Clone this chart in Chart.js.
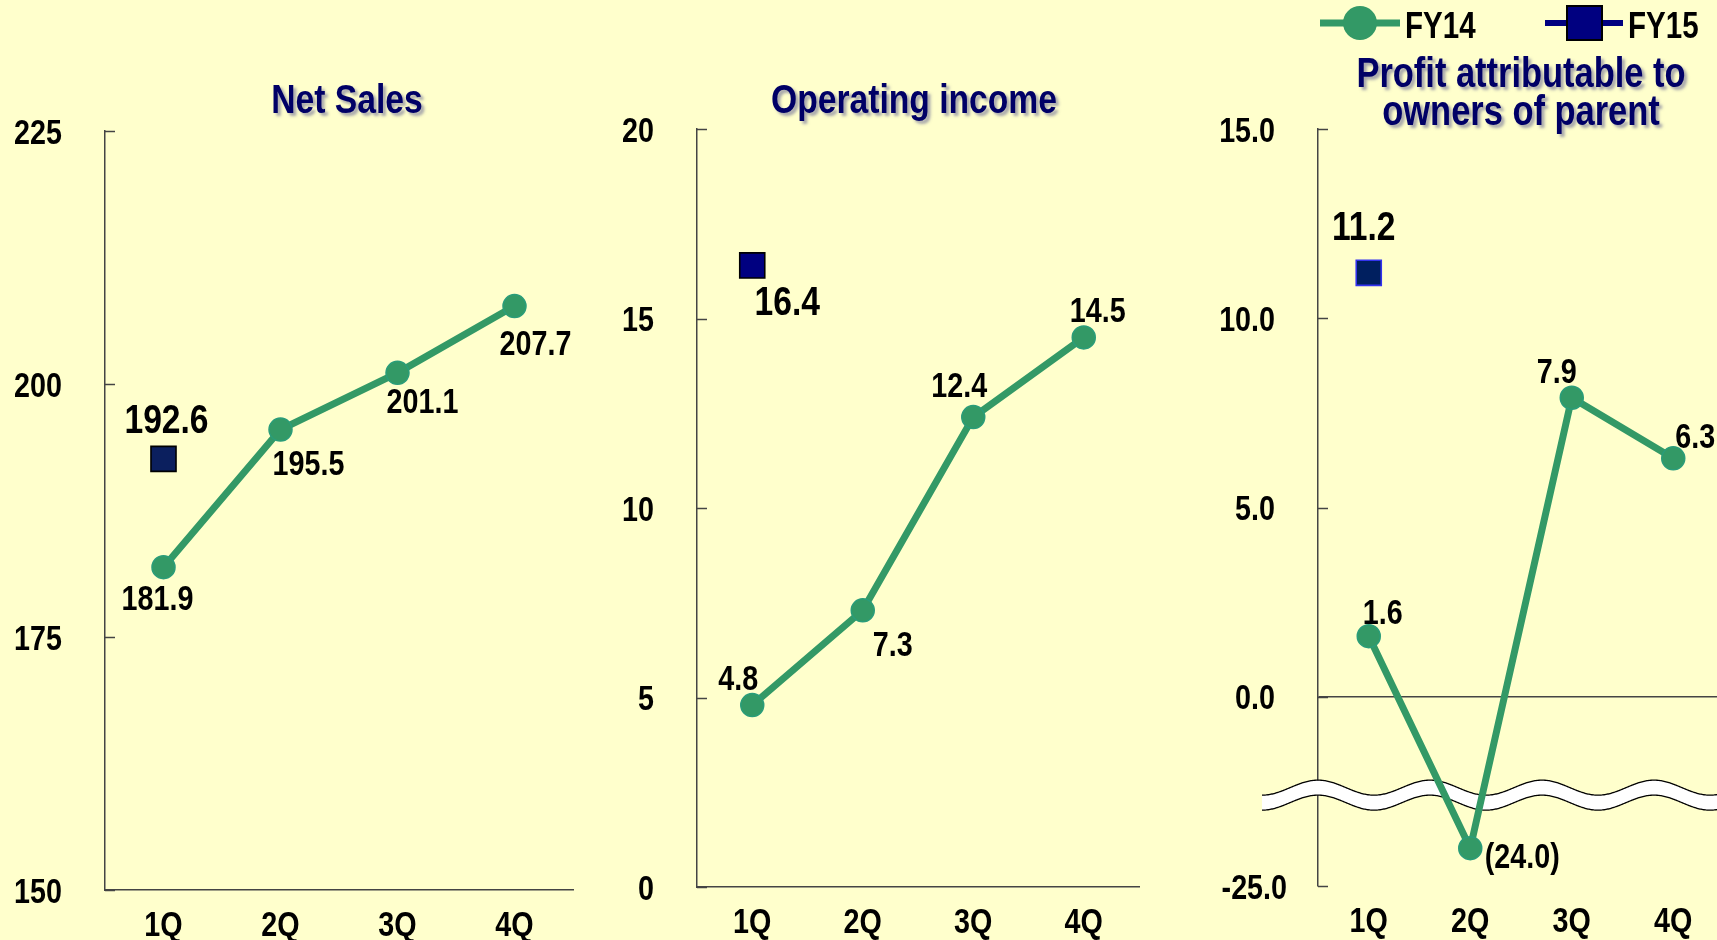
<!DOCTYPE html>
<html>
<head>
<meta charset="utf-8">
<script src="https://cdn.jsdelivr.net/npm/chart.js@4.4.1/dist/chart.umd.min.js"></script>
<style>
  html, body { margin: 0; padding: 0; background: #FFFFCC; }
  body { width: 1717px; height: 940px; position: relative; overflow: hidden; }
  canvas { position: absolute; top: 0; }
</style>
</head>
<body>
<canvas id="salesChart" width="590" height="940" style="left:0px"></canvas>
<canvas id="opChart" width="560" height="940" style="left:600px"></canvas>
<!-- the last plot runs a little past the right edge of the page, as in the source -->
<canvas id="profitChart" width="564" height="940" style="left:1160px"></canvas>
<script>
// data
const quarters = ['1Q', '2Q', '3Q', '4Q'];
const seriesNames = ['FY14', 'FY15'];

const salesFY14 = [181.9, 195.5, 201.1, 207.7];
const salesFY15 = [192.6, null, null, null];
const salesTicks = [150, 175, 200, 225];

const opFY14 = [4.8, 7.3, 12.4, 14.5];
const opFY15 = [16.4, null, null, null];
const opTicks = [0, 5, 10, 15, 20];

const profitFY14 = [1.6, -24.0, 7.9, 6.3];
const profitFY15 = [11.2, null, null, null];
const profitTicks = [-25, 0, 5, 10, 15];

// broken axis on the profit chart: negatives are shifted up by this amount
const PROFIT_BREAK = 20;
const toAxis = v => (v == null ? null : (v < 0 ? v + PROFIT_BREAK : v));
const fromAxis = v => (v < 0 ? v - PROFIT_BREAK : v);

const FONT = "'Liberation Sans', Arial, sans-serif";
const NARROW = 0.82; // squeeze Liberation Sans Bold into an Arial Narrow look
const GREEN = '#339966';
const TITLE_NAVY = '#000066';
const AXIS = '#444444';

// bold narrow text, y is the baseline
function narrowText(ctx, txt, x, y, size, align, color) {
  ctx.save();
  ctx.translate(x, y);
  ctx.scale(NARROW, 1);
  ctx.font = `bold ${size}px ${FONT}`;
  ctx.fillStyle = color || '#000';
  ctx.textAlign = align || 'center';
  ctx.textBaseline = 'alphabetic';
  ctx.fillText(txt, 0, 0);
  ctx.restore();
}
const capHalf = size => size * 0.358;

// axis labels drawn from the scales' own ticks
const narrowTicks = {
  id: 'narrowTicks',
  afterDraw(chart, args, opts) {
    const ctx = chart.ctx, y = chart.scales.y, x = chart.scales.x;
    const shift = opts.shift || {};
    y.ticks.forEach(t => {
      narrowText(ctx, t.label, y.right - 43 + (shift[t.label] || 0),
        y.getPixelForValue(t.value) + capHalf(35), 35, 'right');
    });
    x.ticks.forEach((t, i) => {
      narrowText(ctx, t.label, x.getPixelForTick(i), chart.chartArea.bottom + 33 + capHalf(35), 35, 'center');
    });
  }
};

// value labels next to each point
const valueLabels = {
  id: 'valueLabels',
  afterDatasetsDraw(chart) {
    const ctx = chart.ctx;
    chart.data.datasets.forEach((ds, i) => {
      const meta = chart.getDatasetMeta(i);
      meta.data.forEach((pt, j) => {
        const v = ds.rawValues[j];
        if (v == null) return;
        const [dx, dy] = ds.labelOffsets[j];
        const txt = v < 0 ? '(' + Math.abs(v).toFixed(1) + ')' : v.toFixed(1);
        narrowText(ctx, txt, pt.x + dx, pt.y + dy + capHalf(ds.labelSize), ds.labelSize, 'center');
      });
    });
  }
};

// short tick marks pointing into the plot
const innerTicks = {
  id: 'innerTicks',
  afterDraw(chart) {
    const y = chart.scales.y, ctx = chart.ctx;
    ctx.save();
    ctx.strokeStyle = AXIS;
    ctx.lineWidth = 1.5;
    y.ticks.forEach(t => {
      const py = Math.round(y.getPixelForValue(t.value)) + 0.5;
      ctx.beginPath();
      ctx.moveTo(y.right, py);
      ctx.lineTo(y.right + 10, py);
      ctx.stroke();
    });
    ctx.restore();
  }
};

const panelTitle = {
  id: 'panelTitle',
  afterDraw(chart, args, opts) {
    const ctx = chart.ctx, a = chart.chartArea;
    const cx = (a.left + a.right) / 2 + opts.dx;
    ctx.save();
    ctx.shadowColor = 'rgba(80, 80, 140, 0.5)';
    ctx.shadowOffsetX = 3;
    ctx.shadowOffsetY = 3;
    ctx.shadowBlur = 3;
    opts.lines.forEach((line, i) => narrowText(ctx, line, cx, opts.baselines[i], opts.size, 'center', TITLE_NAVY));
    ctx.restore();
  }
};

// wavy white band marking the axis break (under the line, over the axes)
const axisBreak = {
  id: 'axisBreak',
  beforeDatasetsDraw(chart, args, opts) {
    if (opts.at == null) return;
    const ctx = chart.ctx, y = chart.scales.y;
    const yc = y.getPixelForValue(opts.at);
    const x0 = opts.startX, x1 = chart.width;
    const half = 7.5, amp = 7.5, period = 112, phase = chart.chartArea.left;
    const f = x => -amp * Math.cos(2 * Math.PI * (x - phase) / period);
    ctx.save();
    ctx.beginPath();
    for (let x = x0; x <= x1; x++) {
      const yy = yc - half + f(x);
      x === x0 ? ctx.moveTo(x, yy) : ctx.lineTo(x, yy);
    }
    for (let x = x1; x >= x0; x--) ctx.lineTo(x, yc + half + f(x));
    ctx.closePath();
    ctx.fillStyle = '#ffffff';
    ctx.fill();
    ctx.strokeStyle = '#000';
    ctx.lineWidth = 1.3;
    [-half, half].forEach(off => {
      ctx.beginPath();
      for (let x = x0; x <= x1; x++) {
        const yy = yc + off + f(x);
        x === x0 ? ctx.moveTo(x, yy) : ctx.lineTo(x, yy);
      }
      ctx.stroke();
    });
    ctx.restore();
  }
};

// legend with line-through markers, top right
const lineLegend = {
  id: 'lineLegend',
  afterDraw(chart) {
    const ctx = chart.ctx;
    const [d14, d15] = chart.data.datasets;
    const cy = 23;
    ctx.save();
    ctx.strokeStyle = d14.borderColor;
    ctx.lineWidth = 7;
    ctx.beginPath(); ctx.moveTo(160, cy); ctx.lineTo(240, cy); ctx.stroke();
    ctx.fillStyle = d14.pointBackgroundColor;
    ctx.beginPath(); ctx.arc(200, cy, 17, 0, Math.PI * 2); ctx.fill();
    ctx.strokeStyle = '#000080';
    ctx.lineWidth = 6;
    ctx.beginPath(); ctx.moveTo(385, cy); ctx.lineTo(463, cy); ctx.stroke();
    ctx.fillStyle = '#000080';
    ctx.fillRect(407, cy - 17, 35, 34);
    ctx.strokeStyle = '#000';
    ctx.lineWidth = 2;
    ctx.strokeRect(407, cy - 17, 35, 34);
    ctx.restore();
    narrowText(ctx, d14.label, 245, 38, 36, 'left');
    narrowText(ctx, d15.label, 468, 38, 36, 'left');
  }
};

function makePanel(id, cfg) {
  const map = cfg.map || (v => v);
  return new Chart(document.getElementById(id), {
    type: 'line',
    data: {
      labels: quarters,
      datasets: [{
        label: seriesNames[0],
        data: cfg.fy14.map(map),
        rawValues: cfg.fy14,
        labelOffsets: cfg.off14,
        labelSize: 35,
        borderColor: GREEN,
        borderWidth: 7,
        tension: 0,
        pointRadius: 11.5,
        pointBackgroundColor: GREEN,
        pointBorderColor: '#2a9d7a',
        pointBorderWidth: 1.5
      }, {
        label: seriesNames[1],
        data: cfg.fy15.map(map),
        rawValues: cfg.fy15,
        labelOffsets: cfg.off15,
        labelSize: 41,
        showLine: false,
        pointStyle: 'rect',
        pointRadius: 17.7,
        pointBackgroundColor: cfg.squareFill,
        pointBorderColor: cfg.squareBorder,
        pointBorderWidth: 1.6
      }]
    },
    options: {
      responsive: false,
      animation: false,
      layout: {
        autoPadding: false,
        padding: { top: cfg.top, right: cfg.padRight, bottom: 940 - cfg.bottom, left: 0 }
      },
      plugins: {
        legend: { display: false },
        tooltip: { enabled: false },
        panelTitle: cfg.title,
        axisBreak: cfg.brk || {},
        narrowTicks: { shift: cfg.tickShift || {} }
      },
      scales: {
        x: {
          type: 'category',
          offset: true,
          grid: { display: false, drawTicks: false },
          border: { display: cfg.xBorder, color: AXIS, width: 1.5 },
          ticks: { display: false }
        },
        y: {
          min: cfg.min,
          max: cfg.max,
          afterFit: s => { s.width = cfg.axisWidth; },
          afterBuildTicks: s => { s.ticks = cfg.ticks.map(v => ({ value: map(v) })); },
          grid: cfg.grid || { display: false, drawTicks: false },
          border: { color: AXIS, width: 1.5 },
          ticks: { display: false, callback: cfg.fmt }
        }
      }
    },
    plugins: [axisBreak, innerTicks, valueLabels, narrowTicks, panelTitle].concat(cfg.extra || [])
  });
}

makePanel('salesChart', {
  fy14: salesFY14, fy15: salesFY15, ticks: salesTicks,
  min: 150, max: 225, axisWidth: 105, top: 131, bottom: 890, padRight: 17, xBorder: true,
  fmt: v => String(v),
  off14: [[-6, 30], [28, 33], [25, 28], [21, 36]],
  off15: [[3, -41], [0, 0], [0, 0], [0, 0]],
  squareFill: '#0B1F5E', squareBorder: '#000',
  title: { lines: ['Net Sales'], baselines: [113], dx: 8, size: 41 }
});

makePanel('opChart', {
  fy14: opFY14, fy15: opFY15, ticks: opTicks,
  min: 0, max: 20, axisWidth: 97, top: 129, bottom: 887, padRight: 21, xBorder: true,
  fmt: v => String(v),
  off14: [[-14, -28], [30, 33], [-14, -33], [14, -28]],
  off15: [[35, 35], [0, 0], [0, 0], [0, 0]],
  squareFill: '#000080', squareBorder: '#000',
  title: { lines: ['Operating income'], baselines: [113], dx: -4, size: 41 }
});

makePanel('profitChart', {
  fy14: profitFY14, fy15: profitFY15, ticks: profitTicks, map: toAxis,
  min: toAxis(-25), max: 15, axisWidth: 158, top: 129, bottom: 886, padRight: 0, xBorder: false,
  fmt: v => fromAxis(v).toFixed(1),
  tickShift: { '-25.0': 12 },
  grid: {
    display: true, drawTicks: false, lineWidth: 1.5,
    color: c => (c.tick && c.tick.value === 0 ? AXIS : 'rgba(0,0,0,0)')
  },
  off14: [[14, -25], [52, 7], [-15, -27], [22, -23]],
  off15: [[-5, -48], [0, 0], [0, 0], [0, 0]],
  squareFill: '#001F5F', squareBorder: '#3333EE',
  title: { lines: ['Profit attributable to', 'owners of parent'], baselines: [87, 125], dx: 0, size: 42 },
  brk: { at: -2.6, startX: 102 },
  extra: [lineLegend]
});
</script>
</body>
</html>
